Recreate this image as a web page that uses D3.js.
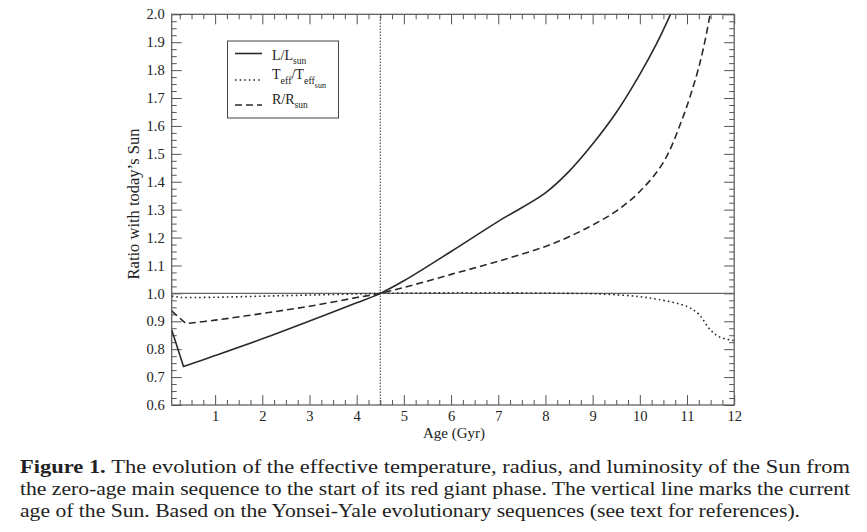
<!DOCTYPE html>
<html>
  <head>
    <title>Evolution of the Sun</title>
    <style>
      body { margin: 0; background: #fff; }
      svg text { font-family: "Liberation Serif", "Times New Roman", serif; fill: #222; }
    </style>
  </head>
  <body>
    <div id="chart"></div>

    <script src="https://cdnjs.cloudflare.com/ajax/libs/d3/7.8.5/d3.min.js"></script>
    <script>
      // values (age in Gyr, ratio to today's Sun)
      const lumAge = [0.08, 0.33, 1, 2, 3, 4, 4.5, 5, 6, 7, 8, 8.5, 9, 9.5, 10, 10.35, 10.65]
      const lumVal = [0.869, 0.738, 0.777, 0.837, 0.901, 0.966, 1.0, 1.045, 1.15, 1.258, 1.36, 1.437, 1.535, 1.648, 1.785, 1.893, 2.0]

      const teffAge = [0.08, 0.3, 1, 2, 3, 4, 4.5, 5, 6, 7, 8, 8.5, 9, 9.5, 10, 10.4, 11, 11.25, 11.5, 11.7, 12]
      const teffVal = [0.99, 0.985, 0.986, 0.99, 0.994, 0.998, 1.0, 1.001, 1.002, 1.002, 1.001, 1.0, 0.999, 0.995, 0.988, 0.978, 0.953, 0.925, 0.868, 0.843, 0.831]

      const radAge = [0.08, 0.38, 1, 2, 3, 4, 4.5, 5, 6, 7, 8, 8.5, 9, 9.5, 10, 10.5, 10.9, 11.2, 11.35, 11.49]
      const radVal = [0.937, 0.892, 0.904, 0.928, 0.954, 0.985, 1.0, 1.021, 1.068, 1.115, 1.168, 1.203, 1.245, 1.295, 1.365, 1.47, 1.625, 1.78, 1.88, 2.0]

      const currentAge = 4.5
      const ageDomain = [0.08, 12]
      const ratioDomain = [0.6, 2.0]
      const ageTicks = [1, 2, 3, 4, 5, 6, 7, 8, 9, 10, 11, 12]
      const ratioTicks = [0.6, 0.7, 0.8, 0.9, 1.0, 1.1, 1.2, 1.3, 1.4, 1.5, 1.6, 1.7, 1.8, 1.9, 2.0]

      const caption = [
        "The evolution of the effective temperature, radius, and luminosity of the Sun from",
        "the zero-age main sequence to the start of its red giant phase. The vertical line marks the current",
        "age of the Sun. Based on the Yonsei-Yale evolutionary sequences (see text for references)."
      ]

      const W = 867, H = 532
      const plot = { left: 171.7, right: 734.2, top: 14.3, bottom: 405 }

      const svg = d3.select("#chart")
        .append("svg")
        .attr("width", W)
        .attr("height", H)

      const x = d3.scaleLinear().domain(ageDomain).range([plot.left, plot.right])
      const y = d3.scaleLinear().domain(ratioDomain).range([plot.bottom, plot.top])

      // minor tick positions
      const ageMinor = d3.range(0.25, 12, 0.25).filter(d => d % 1 !== 0)
      const ratioMinor = d3.range(0, 57).map(i => 0.6 + i * 0.025).filter((d, i) => i % 4 !== 0)

      const styleAxis = g => {
        g.select(".domain").remove()
        g.selectAll(".tick line").attr("stroke", "#555").attr("stroke-width", 1)
        g.selectAll(".tick text").attr("font-size", 14.5).attr("fill", "#222")
          .style("font-family", "'Liberation Serif', serif")
      }

      const addAxes = () => {
        const bottom = svg.append("g").attr("transform", `translate(0,${plot.bottom})`)
        bottom.append("g").call(d3.axisBottom(x).tickValues(ageTicks).tickSize(-10).tickPadding(6).tickFormat(d3.format("d"))).call(styleAxis)
        bottom.append("g").call(d3.axisBottom(x).tickValues(ageMinor).tickSize(-5).tickFormat("")).call(styleAxis)

        const top = svg.append("g").attr("transform", `translate(0,${plot.top})`)
        top.append("g").call(d3.axisTop(x).tickValues(ageTicks).tickSize(-10).tickFormat("")).call(styleAxis)
        top.append("g").call(d3.axisTop(x).tickValues(ageMinor).tickSize(-5).tickFormat("")).call(styleAxis)

        const left = svg.append("g").attr("transform", `translate(${plot.left},0)`)
        left.append("g").call(d3.axisLeft(y).tickValues(ratioTicks).tickSize(-10).tickPadding(7).tickFormat(d3.format(".1f"))).call(styleAxis)
        left.append("g").call(d3.axisLeft(y).tickValues(ratioMinor).tickSize(-5).tickFormat("")).call(styleAxis)

        const right = svg.append("g").attr("transform", `translate(${plot.right},0)`)
        right.append("g").call(d3.axisRight(y).tickValues(ratioTicks).tickSize(-10).tickFormat("")).call(styleAxis)
        right.append("g").call(d3.axisRight(y).tickValues(ratioMinor).tickSize(-5).tickFormat("")).call(styleAxis)

        svg.append("rect")
          .attr("x", plot.left).attr("y", plot.top)
          .attr("width", plot.right - plot.left).attr("height", plot.bottom - plot.top)
          .attr("fill", "none").attr("stroke", "#555").attr("stroke-width", 1.2)

        svg.append("text")
          .attr("x", 454)
          .attr("y", 438)
          .attr("text-anchor", "middle")
          .attr("font-size", 15)
          .text("Age (Gyr)")

        svg.append("text")
          .attr("transform", "translate(139,204) rotate(-90)")
          .attr("text-anchor", "middle")
          .attr("font-size", 16.5)
          .text("Ratio with today\u2019s Sun")
      }

      addAxes()

      svg.append("clipPath").attr("id", "clip")
        .append("rect")
        .attr("x", plot.left).attr("y", plot.top)
        .attr("width", plot.right - plot.left).attr("height", plot.bottom - plot.top)

      const marks = svg.append("g").attr("clip-path", "url(#clip)")

      // reference lines: today's ratio and today's age
      marks.append("line")
        .attr("x1", x(ageDomain[0])).attr("x2", x(ageDomain[1]))
        .attr("y1", y(1.0)).attr("y2", y(1.0))
        .attr("stroke", "#666").attr("stroke-width", 1.3)

      marks.append("line")
        .attr("x1", x(currentAge)).attr("x2", x(currentAge))
        .attr("y1", y(ratioDomain[0])).attr("y2", y(ratioDomain[1]))
        .attr("stroke", "#333").attr("stroke-width", 1).attr("stroke-dasharray", "1.5,1.5")

      const series = [
        { age: lumAge, val: lumVal, dash: null },
        { age: teffAge, val: teffVal, dash: "1.6,3" },
        { age: radAge, val: radVal, dash: "7,4" }
      ]

      const smooth = d3.line().x(d => x(d[0])).y(d => y(d[1])).curve(d3.curveCatmullRom.alpha(0.5))

      series.forEach(s => {
        const pts = s.age.map((a, i) => [a, s.val[i]])
        // straight drop to the zero-age dip, smooth curve afterwards
        const head = `M${x(pts[0][0])},${y(pts[0][1])}`
        const body = smooth(pts.slice(1)).replace(/^M/, "L")
        marks.append("path")
          .attr("d", head + body)
          .attr("fill", "none")
          .attr("stroke", "#2a2a2a")
          .attr("stroke-width", 1.6)
          .attr("stroke-dasharray", s.dash)
      })

      // legend
      const legend = svg.append("g").attr("class", "legend")
      legend.append("rect")
        .attr("x", 227.5).attr("y", 41)
        .attr("width", 111).attr("height", 77)
        .attr("fill", "white").attr("stroke", "#444").attr("stroke-width", 1)

      const legendRows = [
        { y: 53.5, base: 60, dash: null, parts: [["L/L", 0, 14], ["sun", 4, 9.5]] },
        { y: 80, base: 79, dash: "1.6,3", parts: [["T", 0, 14], ["eff", 5, 10], ["/T", -5, 14], ["eff", 5, 10], ["sun", 4, 8]] },
        { y: 105, base: 104, dash: "7,4", parts: [["R/R", 0, 14], ["sun", 4, 9.5]] }
      ]

      legendRows.forEach(r => {
        legend.append("line")
          .attr("x1", 235).attr("x2", 262)
          .attr("y1", r.y).attr("y2", r.y)
          .attr("stroke", "#2a2a2a").attr("stroke-width", 1.6)
          .attr("stroke-dasharray", r.dash)
        const t = legend.append("text")
          .attr("x", 272)
          .attr("y", r.base)
        r.parts.forEach(([txt, dy, fs]) => {
          t.append("tspan").attr("dy", dy).attr("font-size", fs).text(txt)
        })
      })

      // caption
      const capY = [473, 495, 517]
      const capLen = [830, 830, 780]
      caption.forEach((line, i) => {
        const t = svg.append("text")
          .attr("x", 20)
          .attr("y", capY[i])
          .attr("font-size", 18)
          .attr("fill", "#111")
          .attr("textLength", capLen[i])
          .attr("lengthAdjust", "spacingAndGlyphs")
        if (i === 0) {
          t.append("tspan").attr("font-weight", "bold").text("Figure 1. ")
        }
        t.append("tspan").text(line)
      })
    </script>
  </body>
</html>
